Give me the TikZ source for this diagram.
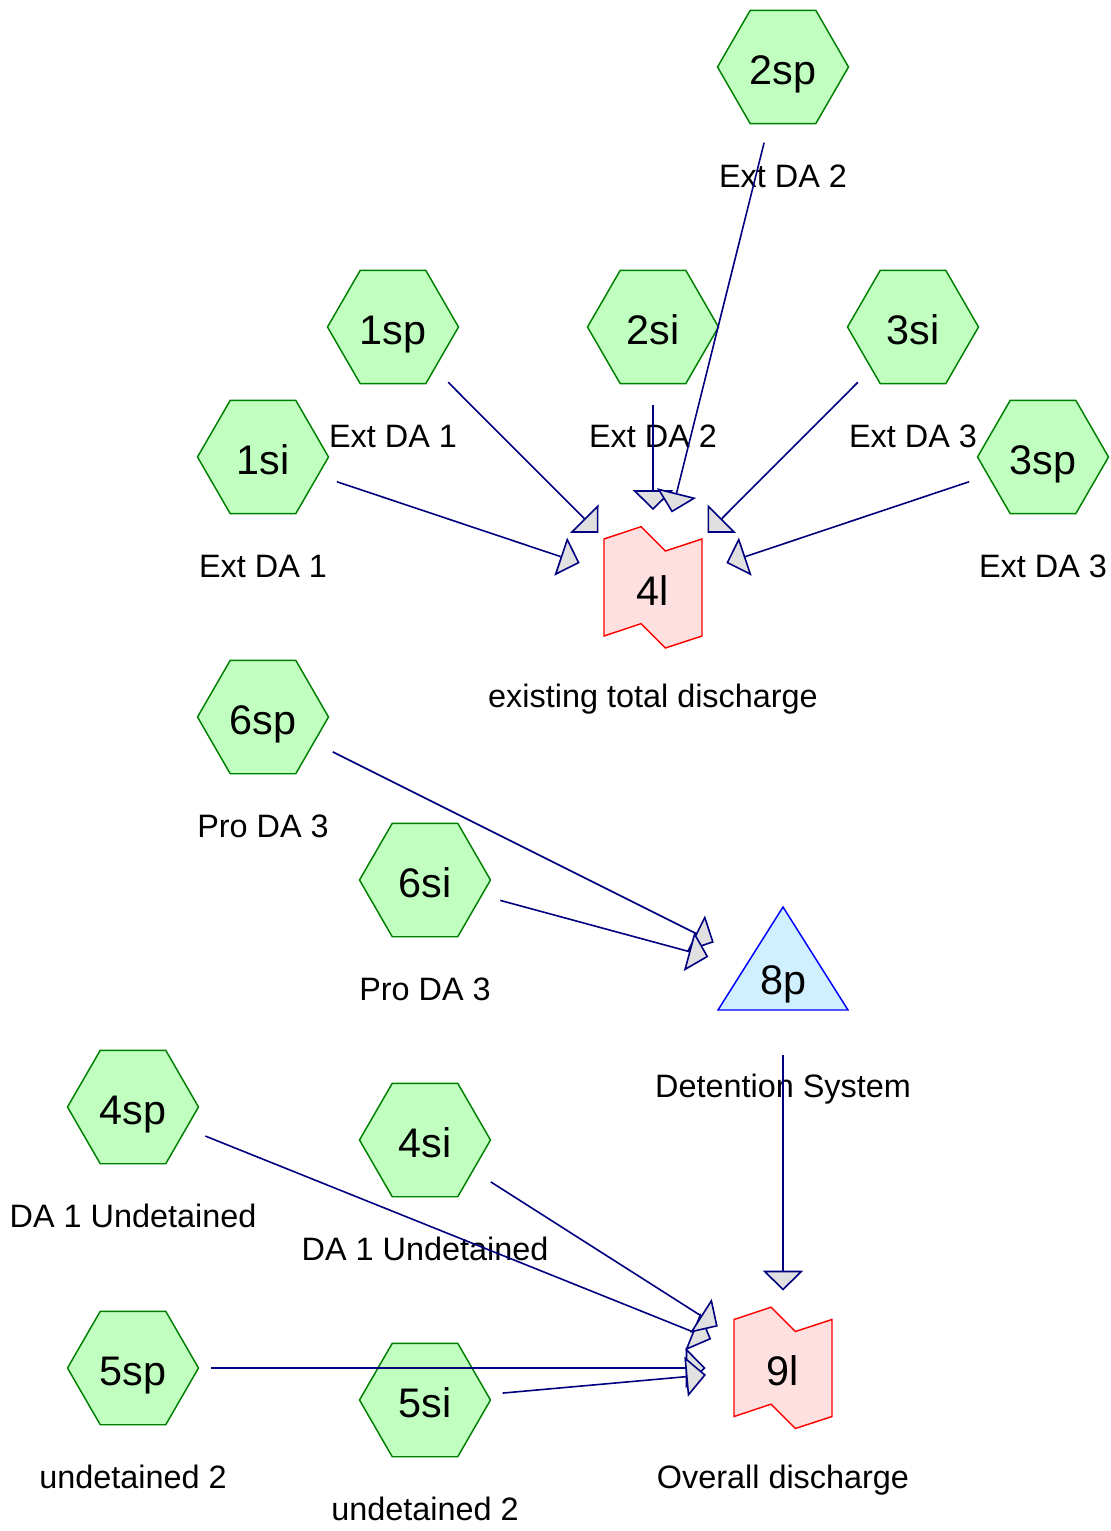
\documentclass[tikz,border=0pt]{standalone}
\usepackage{fontspec}
\setmainfont{Liberation Sans}
\usetikzlibrary{arrows.meta,shapes.geometric,backgrounds}
\definecolor{hexgreen}{HTML}{008000}
\definecolor{hexfill}{HTML}{C0FFC0}
\definecolor{flownavy}{HTML}{000080}
\definecolor{outletred}{HTML}{FF0000}
\definecolor{outletfill}{HTML}{FFE0E0}
\definecolor{pondblue}{HTML}{0000FF}
\definecolor{pondfill}{HTML}{D0F0FF}

\begin{document}
\begin{tikzpicture}[x=0.75pt, y=-0.75pt,
    catchment/.style={regular polygon, regular polygon sides=6, minimum size=98.25pt, inner sep=0pt,
      draw=hexgreen, fill=hexfill, line width=1.1pt, text height=26.25pt, text depth=0pt,
      font=\fontsize{31}{36}\selectfont},
    outlet/.style={minimum width=73.5pt, minimum height=72.75pt, inner sep=0pt, text height=26.25pt,
      text depth=0pt, font=\fontsize{31}{36}\selectfont},
    tag/.style={anchor=base, font=\fontsize{24.3}{29}\selectfont},
    flow/.style={flownavy, line width=1.2pt, shorten <=58.5pt, shorten >=58pt,
      -{Triangle[length=15pt, width=30pt, fill=black!12]}}]
        \useasboundingbox (0,0) rectangle (1110,1531);

        % Sub-catchments
        \foreach \name/\x/\y/\txt in {2sp/783/67/Ext DA 2, 1sp/393/327/Ext DA 1, 2si/653/327/Ext DA 2,
            3si/913/327/Ext DA 3, 1si/263/457/Ext DA 1, 3sp/1043/457/Ext DA 3, 6sp/263/717/Pro DA 3,
            6si/425/880/Pro DA 3, 4sp/133/1107/DA 1 Undetained, 4si/425/1140/DA 1 Undetained,
            5sp/133/1368/undetained 2, 5si/425/1400/undetained 2} {
          \node[catchment] (\name) at (\x,\y) {\name};
          \node[tag] (t\name) at (\x,\y+120) {\txt};
        }

        % Outlets
        \node[outlet] (4l) at (653,587.5) {4l};
        \node[tag] (t4l) at (653,707.5) {existing total discharge};
        \node[outlet] (9l) at (783,1368) {9l};
        \node[tag] (t9l) at (783,1488) {Overall discharge};

        % Detention system
        \node[outlet] (8p) at (783,977) {8p};
        \node[tag] (t8p) at (783,1097) {Detention System};

        \begin{scope}[on background layer]
          \foreach \n in {4l,9l} {
            \draw[outletred, line width=1.1pt, fill=outletfill] ([shift={(-49,-48.5)}]\n.center)
              -- ++(37,-12.3) -- ++(24.3,24.3) -- ++(36.7,-12) -- ++(0,97)
              -- ++(-36.7,12) -- ++(-24.3,-24.3) -- ++(-37,12.3) -- cycle;
          }
          \draw[pondblue, line width=1.1pt, fill=pondfill] ([shift={(0,-70)}]8p.center)
            -- ([shift={(65,33)}]8p.center) -- ([shift={(-65,33)}]8p.center) -- cycle;
        \end{scope}

        % Flows
        \foreach \a/\b in {1sp/4l, 2si/4l, 2sp/4l, 3si/4l, 1si/4l, 3sp/4l, 6sp/8p, 6si/8p,
            8p/9l, 4sp/9l, 4si/9l, 5sp/9l, 5si/9l} {
          \draw[flow] (\a.center) -- (\b.center);
        }
      \end{tikzpicture}
\end{document}
